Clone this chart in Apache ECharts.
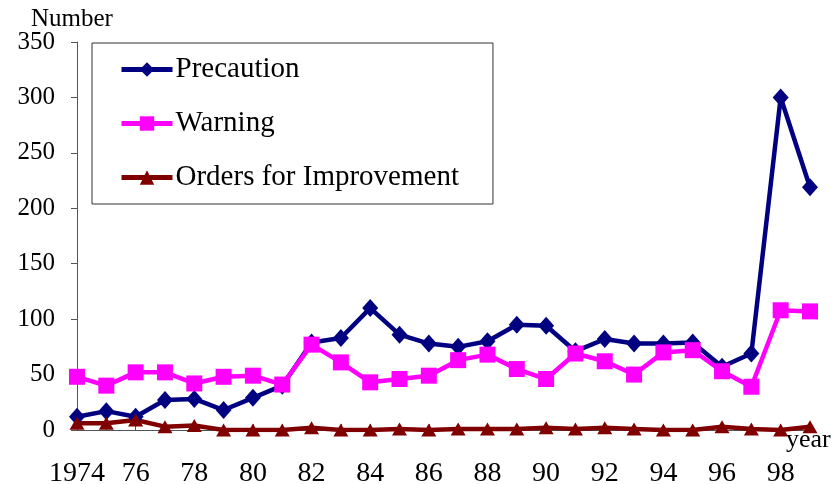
<!DOCTYPE html>
<html>
<head>
<meta charset="utf-8">
<script src="https://cdn.jsdelivr.net/npm/echarts@6/dist/echarts.min.js"></script>
<style>
  html, body { margin: 0; padding: 0; background: #fff; }
  #chart { width: 836px; height: 484px; }
</style>
</head>
<body>
<div id="chart"></div>
<script>
// Yearly counts, 1974-1999
const years = ['1974','75','76','77','78','79','80','81','82','83','84','85','86',
               '87','88','89','90','91','92','93','94','95','96','97','98','99'];
const precaution = [12, 17, 12, 27, 28, 18, 29, 40, 79, 83, 110, 86, 78,
                    75, 80, 95, 94, 71, 82, 78, 78, 79, 57, 69, 300, 219];
const warning = [48, 40, 52, 52, 42, 48, 49, 41, 77, 61, 43, 46, 49,
                 63, 68, 55, 46, 69, 62, 50, 70, 72, 53, 39, 108, 107];
const ordersForImprovement = [6, 6, 9, 3, 4, 0, 0, 0, 2, 0, 0, 1, 0,
                              1, 1, 1, 2, 1, 2, 1, 0, 0, 3, 1, 0, 3];
const yTicks = { min: 0, max: 350, step: 50 };

const serif = '"Liberation Serif", "DejaVu Serif", serif';
const axisColor = '#555';

const chart = echarts.init(document.getElementById('chart'), null, { renderer: 'canvas' });

function lineSeries(name, data, color, symbol, size) {
  return {
    name, type: 'line', data,
    symbol, symbolSize: size,
    showAllSymbol: true,
    animation: false,
    lineStyle: { color, width: 4.5 },
    itemStyle: { color, borderWidth: 0 },
    emphasis: { disabled: true }
  };
}

chart.setOption({
  backgroundColor: '#fff',
  animation: false,
  grid: { left: 77, right: 26, top: 42, bottom: 54, containLabel: false, outerBoundsMode: 'none' },
  legend: {
    orient: 'vertical',
    left: 92, top: 43,
    padding: [12, 34, 12, 27],
    itemGap: 25,
    itemWidth: 51,
    itemHeight: 18,
    borderColor: '#333',
    borderWidth: 1,
    backgroundColor: '#fff',
    lineStyle: { width: 5 },
    textStyle: { fontFamily: serif, fontSize: 29, color: '#000', lineHeight: 29, padding: [0, 0, 0, -2] },
    data: ['Precaution', 'Warning', 'Orders for Improvement']
  },
  xAxis: {
    type: 'category',
    data: years,
    boundaryGap: false,
    axisLine: { lineStyle: { color: axisColor, width: 1 } },
    axisTick: { show: true, inside: true, length: 6, interval: 0, lineStyle: { color: axisColor } },
    axisLabel: {
      interval: 1,
      margin: 30,
      fontFamily: serif, fontSize: 28, color: '#000'
    },
    splitLine: { show: false }
  },
  yAxis: {
    type: 'value',
    min: yTicks.min, max: yTicks.max, interval: yTicks.step,
    axisLine: { show: true, lineStyle: { color: axisColor, width: 1 } },
    axisTick: { show: true, length: 6, lineStyle: { color: axisColor } },
    axisLabel: { margin: 22, fontFamily: serif, fontSize: 25, color: '#000' },
    splitLine: { show: false }
  },
  graphic: [
    { type: 'text', left: 31, top: 7, style: { text: 'Number', font: '25px ' + serif, fill: '#000' } },
    { type: 'text', left: 786, top: 427, style: { text: 'year', font: '26px ' + serif, fill: '#000' } }
  ],
  series: [
    lineSeries('Precaution', precaution, '#000080', 'diamond', [16, 18]),
    lineSeries('Warning', warning, '#ff00ff', 'rect', 16),
    lineSeries('Orders for Improvement', ordersForImprovement, '#800000', 'triangle', [15, 13])
  ]
});
</script>
</body>
</html>
